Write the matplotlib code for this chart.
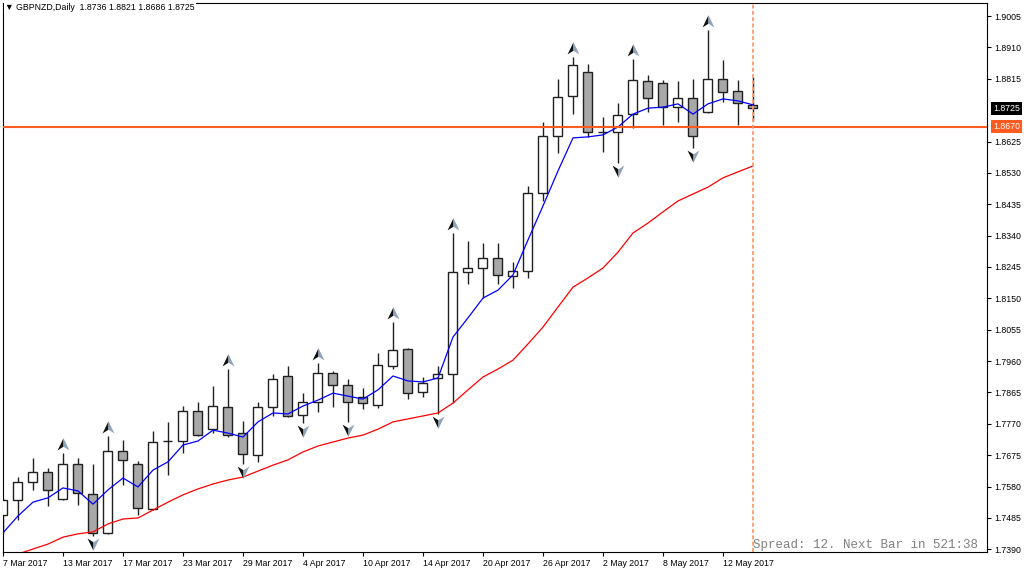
import numpy as np
import pandas as pd
import matplotlib
matplotlib.use("Agg")
import matplotlib.pyplot as plt
from matplotlib.path import Path
from matplotlib.transforms import offset_copy, blended_transform_factory

symbol = "GBPNZD,Daily"
dates = pd.bdate_range("2017-03-07", periods=51)

opens = [1.7494, 1.7539, 1.7594, 1.7624, 1.7543, 1.7649, 1.7558, 1.7440, 1.7688, 1.7649,
         1.7512, 1.7718, 1.7718, 1.7809, 1.7754, 1.7821, 1.7742, 1.7676, 1.7821, 1.7915,
         1.7797, 1.7836, 1.7924, 1.7888, 1.7851, 1.7827, 1.7945, 1.7997, 1.7867, 1.7909,
         1.7921, 1.8230, 1.8242, 1.8272, 1.8218, 1.8233, 1.8469, 1.8642, 1.8763, 1.8835,
         1.8654, 1.8654, 1.8708, 1.8808, 1.8802, 1.8729, 1.8757, 1.8714, 1.8814, 1.8778,
         1.8736]
highs = [1.7546, 1.7609, 1.7667, 1.7636, 1.7682, 1.7667, 1.7649, 1.7733, 1.7721, 1.7658,
         1.7748, 1.7776, 1.7824, 1.7836, 1.7885, 1.7936, 1.7779, 1.7836, 1.7921, 1.7945,
         1.7863, 1.7954, 1.7930, 1.7906, 1.7879, 1.7985, 1.8078, 1.8000, 1.7912, 1.7945,
         1.8348, 1.8324, 1.8318, 1.8318, 1.8260, 1.8490, 1.8684, 1.8814, 1.8881, 1.8860,
         1.8699, 1.8742, 1.8875, 1.8826, 1.8811, 1.8808, 1.8814, 1.8963, 1.8872, 1.8811,
         1.8821]
lows = [1.7437, 1.7479, 1.7570, 1.7521, 1.7539, 1.7524, 1.7430, 1.7437, 1.7585, 1.7494,
        1.7510, 1.7615, 1.7682, 1.7734, 1.7742, 1.7730, 1.7649, 1.7655, 1.7794, 1.7791,
        1.7773, 1.7806, 1.7821, 1.7776, 1.7815, 1.7818, 1.7936, 1.7845, 1.7851, 1.7800,
        1.7833, 1.8194, 1.8151, 1.8194, 1.8181, 1.8212, 1.8445, 1.8590, 1.8708, 1.8639,
        1.8593, 1.8560, 1.8666, 1.8714, 1.8675, 1.8684, 1.8605, 1.8712, 1.8745, 1.8675,
        1.8686]
closes = [1.7539, 1.7594, 1.7624, 1.7570, 1.7649, 1.7561, 1.7440, 1.7688, 1.7661, 1.7515,
          1.7715, 1.7718, 1.7809, 1.7736, 1.7824, 1.7736, 1.7679, 1.7821, 1.7906, 1.7794,
          1.7836, 1.7924, 1.7888, 1.7836, 1.7833, 1.7948, 1.7994, 1.7863, 1.7894, 1.7921,
          1.8230, 1.8242, 1.8272, 1.8221, 1.8233, 1.8469, 1.8642, 1.8760, 1.8857, 1.8654,
          1.8654, 1.8705, 1.8811, 1.8757, 1.8729, 1.8757, 1.8642, 1.8814, 1.8775, 1.8742,
          1.8725]

# moving averages
ma_fast = [1.7440, 1.7491, 1.7533, 1.7546, 1.7576, 1.7567, 1.7527, 1.7570, 1.7606, 1.7579,
           1.7630, 1.7655, 1.7706, 1.7718, 1.7751, 1.7742, 1.7730, 1.7776, 1.7803, 1.7800,
           1.7824, 1.7842, 1.7863, 1.7854, 1.7845, 1.7873, 1.7915, 1.7900, 1.7897, 1.7909,
           1.8033, 1.8091, 1.8151, 1.8175, 1.8221, 1.8327, 1.8430, 1.8536, 1.8636, 1.8639,
           1.8645, 1.8669, 1.8708, 1.8726, 1.8729, 1.8739, 1.8708, 1.8739, 1.8754, 1.8748,
           1.8736]
ma_slow = [1.7361, 1.7376, 1.7391, 1.7406, 1.7427, 1.7437, 1.7443, 1.7467, 1.7482, 1.7485,
           1.7509, 1.7533, 1.7555, 1.7573, 1.7588, 1.7600, 1.7609, 1.7627, 1.7645, 1.7661,
           1.7685, 1.7703, 1.7715, 1.7727, 1.7736, 1.7754, 1.7776, 1.7785, 1.7794, 1.7803,
           1.7833, 1.7873, 1.7912, 1.7936, 1.7963, 1.8012, 1.8063, 1.8124, 1.8184, 1.8212,
           1.8242, 1.8290, 1.8348, 1.8378, 1.8412, 1.8445, 1.8466, 1.8487, 1.8515, 1.8533,
           1.8551]

up_fractals = [4, 7, 15, 21, 26, 30, 38, 42, 47]
down_fractals = [6, 16, 20, 23, 29, 41, 46]

price_ticks = [1.7390, 1.7485, 1.7580, 1.7675, 1.7770, 1.7865, 1.7960, 1.8055, 1.8150,
               1.8245, 1.8340, 1.8435, 1.8530, 1.8625, 1.8815, 1.8910, 1.9005]
level_line = 1.8670
spread_text = "Spread: 12. Next Bar in 521:38"

W, H = 1024, 572
FONT = ["Liberation Sans", "DejaVu Sans"]
plt.rcParams["font.family"] = FONT

fig = plt.figure(figsize=(W / 100, H / 100), dpi=100)
fig.patch.set_facecolor("white")
ax = fig.add_axes([2.5 / W, 20 / H, 984.5 / W, 549 / H])

x = np.arange(len(opens))
o, hi, lo, c = (np.array(v) for v in (opens, highs, lows, closes))
bull = c >= o

# candles
ax.vlines(x, lo, hi, color="#202020", lw=1.0, zorder=2)
ax.bar(x, np.abs(c - o), bottom=np.minimum(o, c), width=0.6,
       color=["white" if b else "#a8a8a8" for b in bull],
       edgecolor="#202020", linewidth=1.0, zorder=3)

# moving averages
ax.plot(x, ma_fast, color="#0000ff", lw=0.9, zorder=4)
ax.plot(x, ma_slow, color="#ff0000", lw=0.9, zorder=4)

# fractal arrows (two-tone arrowheads)
def half(sx, sy):
    return Path([(0, sy), (sx * 0.95, -sy * 0.95), (0, -sy * 0.35), (0, sy)],
                [Path.MOVETO, Path.LINETO, Path.LINETO, Path.CLOSEPOLY])

t_up = offset_copy(ax.transData, fig=fig, x=0, y=9, units="dots")
t_dn = offset_copy(ax.transData, fig=fig, x=0, y=-8, units="dots")
ux = np.array(up_fractals)
dx = np.array(down_fractals)
for sx, col in ((-1, "#101010"), (1, "#8ea4bc")):
    ax.plot(ux, hi[ux], ls="none", marker=half(sx, 1), ms=9, mfc=col, mec="none",
            transform=t_up, zorder=6, clip_on=False)
    ax.plot(dx, lo[dx], ls="none", marker=half(sx, -1), ms=9, mfc=col, mec="none",
            transform=t_dn, zorder=6, clip_on=False)

# level line and current bar marker
ax.axhline(level_line, color="#ff5a1f", lw=1.5, zorder=5)
ax.axvline(x[-1], color="#ff9a6a", lw=1.3, ls=(0, (2.2, 1.3)), zorder=5)

ax.set_xlim(-0.033, 65.6)
ax.set_ylim(1.7382, 1.90444)

ax.yaxis.tick_right()
ax.set_yticks(price_ticks)
ax.set_yticklabels([f"{p:.4f}" for p in price_ticks])
xt = x[::4]
ax.set_xticks(xt)
ax.set_xticklabels([f"{dates[i].day} {dates[i]:%b %Y}" for i in xt])
for lab in ax.get_xticklabels():
    lab.set_horizontalalignment("left")
ax.tick_params(axis="both", direction="out", length=3, width=0.8,
               labelsize=6.3, pad=2, colors="black")
for s in ax.spines.values():
    s.set_color("black")
    s.set_linewidth(0.8)

# price labels on the axis
bt = blended_transform_factory(ax.transAxes, ax.transData)
ax.text((993 - 2.5) / 984.5, c[-1], f"{c[-1]:.4f}", transform=bt, color="white",
        fontsize=6.3, va="center", ha="left", zorder=10, clip_on=False,
        bbox=dict(boxstyle="square,pad=0.25", fc="black", ec="none"))
ax.text((993 - 2.5) / 984.5, level_line, f"{level_line:.4f}", transform=bt, color="white",
        fontsize=6.3, va="center", ha="left", zorder=10, clip_on=False,
        bbox=dict(boxstyle="square,pad=0.25", fc="#ff5a1f", ec="none"))

title = f"\u25bc {symbol}  {o[-1]:.4f} {hi[-1]:.4f} {lo[-1]:.4f} {c[-1]:.4f}"
fig.text(5 / W, 1 - 8 / H, title, fontsize=6.3, va="center", ha="left",
         bbox=dict(fc="white", ec="none", pad=1))
fig.text(753 / W, 1 - 545 / H, spread_text, family=["Liberation Mono", "DejaVu Sans Mono"],
         fontsize=9, color="#808080", va="center", ha="left")

fig.savefig("out.png", dpi=100, facecolor="white")
